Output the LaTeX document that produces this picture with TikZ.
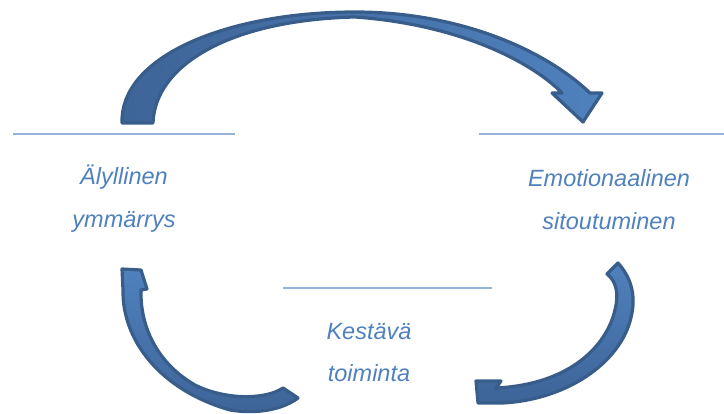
\documentclass[tikz,border=0pt]{standalone}
\usepackage{fontspec}
\setmainfont{Liberation Sans}
\definecolor{arrowlight}{RGB}{79,129,189}
\definecolor{arrowdark}{RGB}{62,100,152}
\definecolor{arrowedge}{RGB}{56,93,138}
\definecolor{rulecolor}{RGB}{149,179,215}
\definecolor{labelcolor}{RGB}{79,129,189}
\tikzset{
	label text/.style = {font=\fontsize{23.5}{43}\selectfont\itshape, text=labelcolor, align=center, inner sep=0pt, anchor=base},
	rule line/.style = {draw=rulecolor, line width=1.2pt},
	block arrow/.style = {draw=arrowedge, line width=3.2pt, line join=round}
}
\begin{document}
\begin{tikzpicture}[x=1pt, y=-1pt]
			\useasboundingbox (0, 0) rectangle (724, 414);

			\coordinate (l0) at (13, 134);
\coordinate (l1) at (235, 134);
\coordinate (r0) at (479, 134);
\coordinate (r1) at (724, 134);
\coordinate (m0) at (283, 288);
\coordinate (m1) at (492, 288);

			\draw[rule line] (l0) -- (l1);
\draw[rule line] (r0) -- (r1);
\draw[rule line] (m0) -- (m1);

			\node[label text] (mind) at (124, 228) {Älyllinen\\ymmärrys};
\node[label text] (heart) at (609, 230) {Emotionaalinen\\sitoutuminen};
\node[label text] (act) at (369, 382) {Kestävä\\toiminta};

			\filldraw[block arrow, left color=arrowdark, right color=arrowlight]
	(122, 123) .. controls (120, 55) and (230, 12) .. (355, 12)
	.. controls (460, 12) and (545, 50) .. (590, 93)
	-- (602, 93) -- (583, 122) -- (552, 93) -- (562, 93)
	.. controls (535, 65) and (465, 25) .. (355, 17)
	.. controls (230, 20) and (155, 65) .. (153, 123) -- cycle;
\filldraw[block arrow, top color=arrowlight, bottom color=arrowdark]
	(618, 263) .. controls (638, 285) and (635, 310) .. (627, 330)
	.. controls (610, 370) and (560, 400) .. (503, 403)
	-- (478, 403) -- (476, 381) -- (501, 381) -- (496, 388)
	.. controls (560, 385) and (600, 355) .. (613, 317)
	.. controls (620, 295) and (617, 282) .. (607, 274) -- cycle;
\filldraw[block arrow, top color=arrowlight, bottom color=arrowdark]
	(122, 269) -- (123, 290)
	.. controls (122, 340) and (160, 390) .. (230, 410)
	.. controls (260, 415) and (285, 408) .. (298, 398)
	-- (283, 388)
	.. controls (265, 400) and (225, 400) .. (195, 385)
	.. controls (160, 365) and (140, 330) .. (141, 290)
	-- (147, 289) -- (141, 270) -- cycle;

		\end{tikzpicture}
\end{document}
